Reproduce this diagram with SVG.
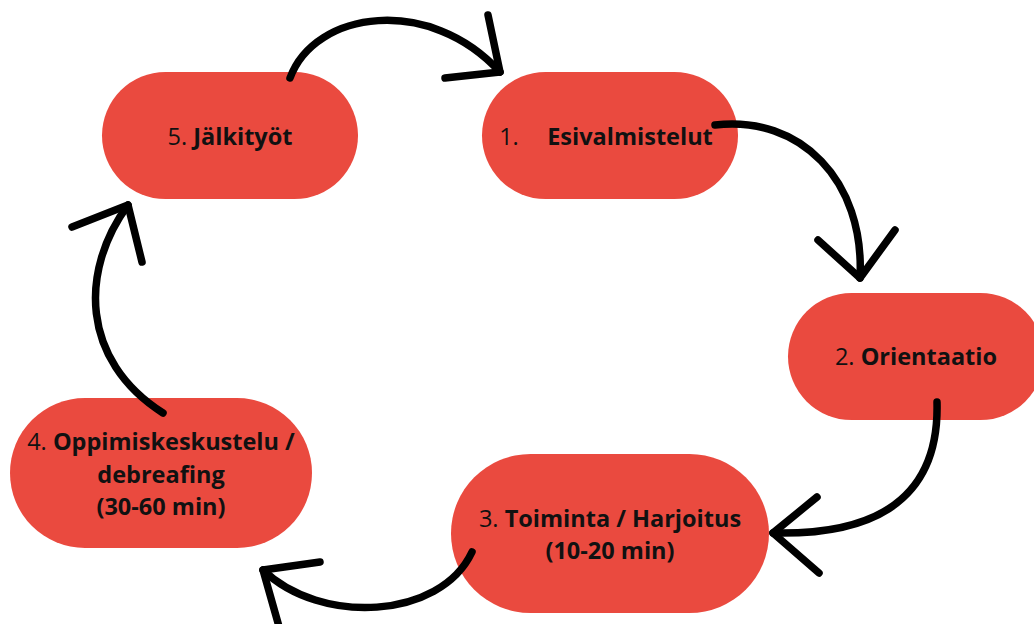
<svg xmlns="http://www.w3.org/2000/svg" width="1034" height="624" viewBox="0 0 1034 624">
<style>
.node{fill:#EA4A3F}
.t{font-family:"Open Sans","Liberation Sans",sans-serif;font-size:23.5px;fill:#111111;text-anchor:middle}
.b{font-weight:bold}
.c{fill:none;stroke:#000;stroke-width:7.5;stroke-linecap:round;stroke-linejoin:round}
</style>
<rect width="1034" height="624" fill="#ffffff"/>
<g id="node5"><rect class="node" x="102" y="72" width="256" height="127" rx="63.5"/>
<text class="t" x="230" y="145">5. <tspan class="b">Jälkityöt</tspan></text></g>
<g id="node1"><rect class="node" x="482" y="72" width="256" height="127" rx="63.5"/>
<text class="t" x="509" y="145">1.</text>
<text class="t b" x="630" y="145">Esivalmistelut</text></g>
<g id="node2"><rect class="node" x="788" y="293" width="256" height="127" rx="63.5"/>
<text class="t" x="916" y="365">2. <tspan class="b">Orientaatio</tspan></text></g>
<g id="node3"><rect class="node" x="451" y="454" width="318" height="159" rx="79.5"/>
<text class="t" x="610" y="527">3. <tspan class="b">Toiminta / Harjoitus</tspan></text>
<text class="t b" x="610" y="559">(10-20 min)</text></g>
<g id="node4"><rect class="node" x="10" y="398" width="302" height="150" rx="75"/>
<text class="t" x="161" y="450">4. <tspan class="b">Oppimiskeskustelu /</tspan></text>
<text class="t b" x="161" y="483">debreafing</text>
<text class="t b" x="161" y="515">(30-60 min)</text></g>
<g id="connectors">
<path class="c" d="M290,78 C315,10 430,-5 500,72"/>
<path class="c" d="M488,15 L500,72 L445,78"/>
<path class="c" d="M715,125 C800,115 865,180 860,278"/>
<path class="c" d="M818,240 L860,278 L895,230"/>
<path class="c" d="M937,402 C940,510 860,535 773,533"/>
<path class="c" d="M817,497 L773,533 L819,573"/>
<path class="c" d="M472,552 C440,620 320,625 263,570"/>
<path class="c" d="M320,562 L263,570 L280,630"/>
<path class="c" d="M163,413 C80,360 80,270 128,205"/>
<path class="c" d="M72,227 L128,205 L142,262"/>
</g>
</svg>
